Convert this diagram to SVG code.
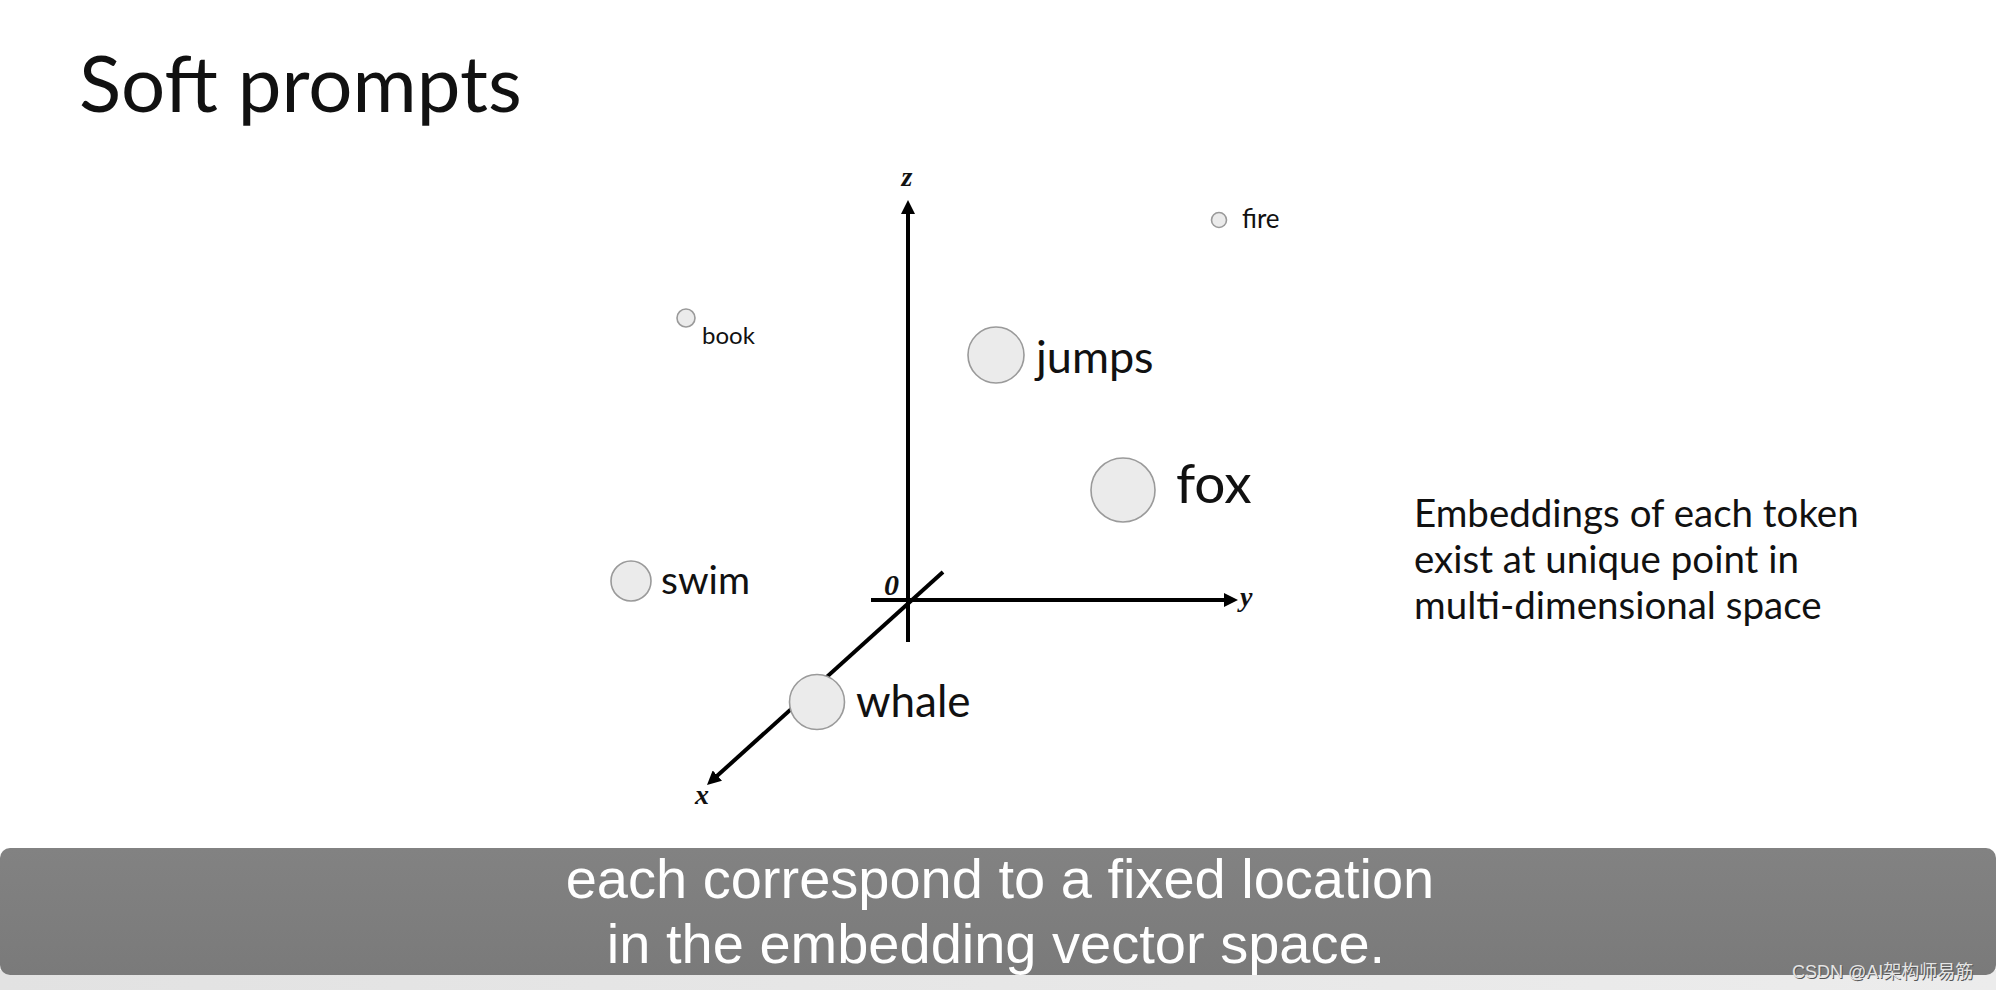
<svg xmlns="http://www.w3.org/2000/svg" width="1996" height="990" viewBox="0 0 1996 990">
  <defs>
    <style>
      .lato { font-family: Lato, "Noto Sans", sans-serif; fill: #111; }
      .ax { font-family: "Liberation Serif", serif; font-weight: bold; font-style: italic; fill: #111; }
      .dot { fill: #ebebeb; stroke: #9a9a9a; stroke-width: 1.6; }
      .axis { stroke: #000; stroke-width: 4; fill: none; }
      .sub { font-family: "Liberation Sans", Arial, sans-serif; fill: #fff; font-size: 56px; text-anchor: middle; }
    </style>
    <marker id="arr" viewBox="0 0 14 14" markerWidth="14" markerHeight="14" refX="4" refY="7" orient="auto" markerUnits="userSpaceOnUse">
      <path d="M0,0 L14,7 L0,14 z" fill="#000"/>
    </marker>
    <linearGradient id="barg" x1="0" y1="0" x2="0" y2="1">
      <stop offset="0" stop-color="#828282"/>
      <stop offset="1" stop-color="#7a7a7a"/>
    </linearGradient>
    <linearGradient id="strip" x1="0" y1="0" x2="1" y2="0">
      <stop offset="0" stop-color="#e2e2e2"/>
      <stop offset="1" stop-color="#ececec"/>
    </linearGradient>
  </defs>

  <rect x="0" y="0" width="1996" height="990" fill="#fff"/>

  <text id="title" class="lato" x="79" y="112" font-size="78">Soft prompts</text>

  <g id="connectors">
    <line class="axis" x1="908" y1="642" x2="908" y2="210" marker-end="url(#arr)"/>
    <line class="axis" x1="871" y1="600" x2="1228" y2="600" marker-end="url(#arr)"/>
    <line class="axis" x1="943" y1="572" x2="714.4" y2="778.3" marker-end="url(#arr)"/>
  </g>

  <g id="axis-labels">
    <text class="ax" x="907" y="186" font-size="28" text-anchor="middle">z</text>
    <text class="ax" x="1240" y="606" font-size="28">y</text>
    <text class="ax" x="702" y="804" font-size="28" text-anchor="middle">x</text>
    <text class="ax" x="884" y="595" font-size="30">0</text>
  </g>

  <g id="node-fire">
    <circle class="dot" cx="1219" cy="220" r="7.5"/>
    <text class="lato" x="1242" y="228" font-size="26">fire</text>
  </g>
  <g id="node-book">
    <circle class="dot" cx="686" cy="318" r="9"/>
    <text class="lato" x="702" y="344" font-size="24" fill="#222">book</text>
  </g>
  <g id="node-jumps">
    <circle class="dot" cx="996" cy="355" r="28"/>
    <text class="lato" x="1036" y="373" font-size="45">jumps</text>
  </g>
  <g id="node-fox">
    <circle class="dot" cx="1123" cy="490" r="32"/>
    <text class="lato" x="1176" y="503" font-size="55">fox</text>
  </g>
  <g id="node-swim">
    <circle class="dot" cx="631" cy="581" r="20"/>
    <text class="lato" x="661" y="594" font-size="39">swim</text>
  </g>
  <g id="node-whale">
    <circle class="dot" cx="817" cy="702" r="27.5"/>
    <text class="lato" x="856" y="717" font-size="44">whale</text>
  </g>

  <g id="note">
    <text class="lato" font-size="38.5" fill="#1a1a1a">
      <tspan x="1414" y="527">Embeddings of each token</tspan>
      <tspan x="1414" y="573">exist at unique point in</tspan>
      <tspan x="1414" y="619">multi-dimensional space</tspan>
    </text>
  </g>

  <g id="subtitle">
    <rect x="0" y="970" width="1996" height="20" fill="url(#strip)"/>
    <rect x="0" y="848" width="1996" height="127" rx="10" ry="10" fill="url(#barg)"/>
    <text class="sub" x="1000" y="898">each correspond to a fixed location</text>
    <text class="sub" x="996" y="963">in the embedding vector space.</text>
  </g>

  <g id="watermark" font-family="'Liberation Sans', 'Noto Sans CJK SC', sans-serif" font-size="18">
    <text x="1793" y="979" fill="#555">CSDN @AI架构师易筋</text>
    <text x="1792" y="978" fill="#e4e4e4">CSDN @AI架构师易筋</text>
  </g>
</svg>
